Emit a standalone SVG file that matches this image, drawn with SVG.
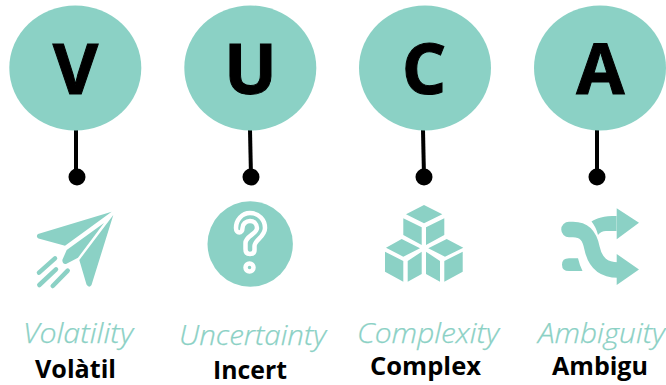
<svg xmlns="http://www.w3.org/2000/svg" width="666" height="385" viewBox="0 0 666 385">
<style>
.c{fill:#8bd1c5}
.l{font-family:"Open Sans",sans-serif;font-weight:700;font-size:70px;fill:#000;stroke:#000;stroke-width:1;text-anchor:middle}
.e{font-family:"Open Sans",sans-serif;font-weight:300;font-style:italic;font-size:27px;fill:#8bd1c5;stroke:#8bd1c5;stroke-width:.25}
.k{font-family:"Open Sans",sans-serif;font-weight:700;font-size:25px;fill:#000}
.s{stroke:#000;stroke-width:4;fill:none}
.t{stroke:#8bd1c5;stroke-width:4.5;stroke-linecap:round;fill:none}
</style>
<g id="connectors">
<path class="s" d="M76 130V177"/><circle cx="77" cy="177" r="8.5"/>
<path class="s" d="M250 130L251 177"/><circle cx="251" cy="177" r="8.5"/>
<path class="s" d="M423 130L424 177"/><circle cx="424" cy="177" r="8.5"/>
<path class="s" d="M597 130V177"/><circle cx="597" cy="177" r="8.5"/>
</g>
<g id="node-v">
<ellipse class="c" cx="75.3" cy="68" rx="66" ry="62.5"/>
<text class="l" x="75.500" y="94">V</text>
<path class="c" d="M111.700 211.700L38 234Q35.500 236.500 38.500 238.500L65 245.700ZM113.300 215L79.300 260L86.500 284.500Q89 288.500 91.500 285ZM104 223L66.700 250L62.300 260Q62.500 264.500 66 264L78 257.700Z"/>
<path class="t" d="M55 258.300L39 272.700M56 269.300L39.300 285M67.700 270.700L52.700 286"/>
<text class="e" x="23" y="343" textLength="110" lengthAdjust="spacingAndGlyphs">Volatility</text>
<text class="k" x="35" y="378" textLength="81" lengthAdjust="spacingAndGlyphs">Volàtil</text>
</g>
<g id="node-u">
<ellipse class="c" cx="250.300" cy="68" rx="66" ry="62.500"/>
<text class="l" x="250.500" y="94">U</text>
<circle class="c" cx="250.200" cy="244" r="42.700"/>
<path d="M250 254Q245.500 254 245.500 249V243C245.500 236 257 234 257 228C257 224 254 221 250 221C246 221 242.500 224 242.500 228C242.500 234 236 234 236 228C236 220 242 213 250 213C259 213 265 220 265 228C265 237 254.500 240 254.500 246V250Q254.500 254 250 254Z" fill="none" stroke="#fff" stroke-width="4.500" stroke-linejoin="round"/>
<circle cx="249.500" cy="267.500" r="4" fill="none" stroke="#fff" stroke-width="4.500"/>
<text class="e" x="179" y="345" textLength="147" lengthAdjust="spacingAndGlyphs">Uncertainty</text>
<text class="k" x="213" y="379" textLength="74" lengthAdjust="spacingAndGlyphs">Incert</text>
</g>
<g id="node-c">
<ellipse class="c" cx="425" cy="68" rx="66" ry="62.500"/>
<text class="l" x="424" y="94">C</text>
<path class="c" d="M424 205L442.300 214.300L424 223.300L406 214.300ZM403.300 218.300L421.700 227.300V245L403.300 235ZM444.300 218.300L426 227.300V245L444.300 235ZM401.700 239L420 248.300L403.300 256.700L386 247.700ZM385 251.700L403.300 261V281.700L385 271.700ZM421.700 251.700L407.700 261V281.700L421.700 274ZM446.700 239L463.300 247.700L445 256.700L428.300 248.300ZM426 251.700L440 261V281.700L426 274ZM462.700 251.700L444.300 261V281.700L462.700 271.700Z"/>
<text class="e" x="357" y="343" textLength="142" lengthAdjust="spacingAndGlyphs">Complexity</text>
<text class="k" x="370" y="375" textLength="111" lengthAdjust="spacingAndGlyphs">Complex</text>
</g>
<g id="node-a">
<ellipse class="c" cx="600" cy="68" rx="66" ry="62.500"/>
<text class="l" x="600.500" y="94">A</text>
<path d="M569 229.500H573C586 229.500 590 238 592 248C595 262 603 270 618 270" fill="none" stroke="#8bd1c5" stroke-width="15.500" stroke-linecap="round"/>
<path class="c" d="M616.700 254L639 269.500L616.700 285ZM639 222.700L616.700 208.300V239.300ZM591.500 221.500C597 218 603 216 617 216V231H606Q601 231 598 235Q596 227 591.500 221.500ZM569 258.300H578Q579.500 265 582.500 271H569Q562 271 562 264.700Q562 258.300 569 258.300Z"/>
<text class="e" x="538" y="343" textLength="127" lengthAdjust="spacingAndGlyphs">Ambiguity</text>
<text class="k" x="552" y="375" textLength="96" lengthAdjust="spacingAndGlyphs">Ambigu</text>
</g>
</svg>
